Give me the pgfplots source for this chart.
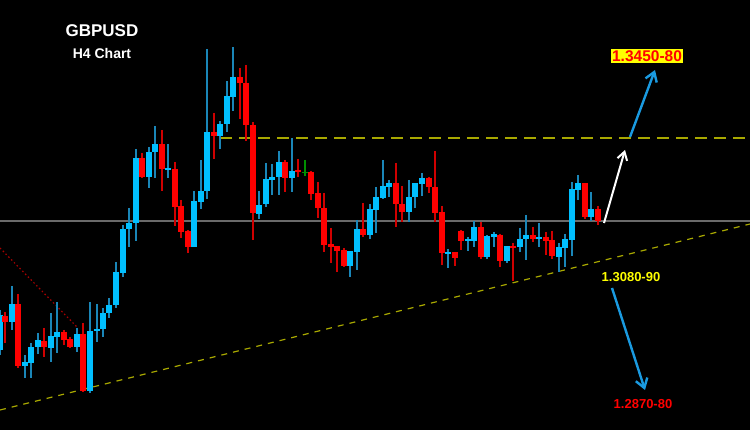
\documentclass[border=0pt]{standalone}
\usepackage{pgfplots}
\usepackage{pgfplotstable}
\usepackage{fontspec}
\setmainfont{Liberation Sans}
\usetikzlibrary{arrows.meta}
\pgfplotsset{compat=1.18}
\definecolor{cbody}{HTML}{00BFFF}
\definecolor{cwick}{HTML}{1A86B8}
\definecolor{rbody}{HTML}{FF0000}
\definecolor{rwick}{HTML}{D00000}
\definecolor{gcol}{HTML}{009000}
\definecolor{olive}{HTML}{A8A800}
\definecolor{arrblue}{HTML}{1A9AE0}
\definecolor{hline}{HTML}{6A6A6A}
\definecolor{lab}{HTML}{FFFF00}
% x, body top, body bottom, wick top, wick bottom (pixel rows)
\pgfplotstableread{
x t b h l
0 315 350 310 355
12 304 322 286 330
25 362 366 355 378
31 347 363 343 378
38 340 347 333 354
51 336 348 313 362
57 332 337 302 353
77 334 347 328 352
90 331 391 302 393
97 329 331 304 342
103 313 329 308 337
109 305 313 298 318
116 272 305 262 308
123 229 273 225 277
129 223 229 208 247
136 158 223 149 241
149 152 177 147 188
155 144 152 126 178
168 168 170 144 178
194 201 247 191 247
201 191 202 160 209
207 132 191 49 199
220 124 136 121 149
227 96 124 81 132
233 77 97 47 111
259 205 214 191 219
266 179 204 163 207
272 177 180 164 195
279 162 177 151 195
292 171 178 138 192
350 251 266 251 277
357 229 252 220 270
370 209 235 204 239
376 197 210 187 233
383 186 198 160 199
389 183 187 180 197
409 197 212 180 222
415 183 197 183 208
422 178 184 173 196
448 252 254 249 268
468 239 241 237 251
474 227 241 221 247
487 236 257 235 259
494 234 237 232 247
507 246 261 246 263
520 239 247 228 252
526 235 239 215 260
539 237 239 223 247
559 247 257 243 272
565 239 248 234 267
572 189 240 182 256
578 183 190 175 200
591 209 217 192 221
}\bluetab
\pgfplotstableread{
x t b h l
5 316 322 312 343
18 304 366 294 368
44 341 347 328 357
64 332 340 330 345
70 339 347 337 348
83 334 391 323 392
142 158 177 153 178
162 144 169 130 191
175 169 207 162 226
181 206 232 200 238
188 231 247 230 253
214 132 136 113 159
240 77 83 68 119
246 83 125 65 141
253 125 213 122 240
285 162 178 160 192
298 170 172 159 177
311 172 194 171 200
318 193 208 182 218
324 208 245 193 252
331 244 247 228 263
337 246 251 246 272
344 250 266 248 267
363 229 235 203 237
396 183 204 163 227
402 204 212 186 222
429 178 187 177 193
435 187 213 151 222
442 212 253 206 265
455 252 258 252 266
461 231 241 230 250
481 227 257 222 259
500 235 261 234 267
513 246 248 243 281
533 235 239 227 242
546 237 241 232 255
552 240 256 231 259
585 183 217 183 219
598 209 221 206 225
}\redtab
\pgfplotstableread{
x t b h l
305 172 173 160 176
}\greentab
\begin{document}
\begin{tikzpicture}
\fill[black] (0,0) rectangle (750pt,430pt);
\begin{axis}[
  at={(0,0)}, anchor=south west,
  scale only axis, width=750pt, height=430pt,
  xmin=0, xmax=750, ymin=0, ymax=430, y dir=reverse,
  hide axis, clip=true,
]
% reference lines
\addplot[hline, line width=1.5pt] coordinates {(0,221) (750,221)};
\addplot[olive, line width=1.6pt, dash pattern=on 12pt off 7pt] coordinates {(220,138) (750,138)};
\addplot[olive, line width=1.2pt, dash pattern=on 6pt off 6pt] coordinates {(0,410) (750,224)};
\addplot[rwick!80!black, line width=1.2pt, dash pattern=on 1.5pt off 2.5pt] coordinates {(0,248) (77,327)};
% candles: wicks
\addplot[draw=none, mark=none, error bars/.cd, y dir=plus, y explicit, error mark=none,
  error bar style={cwick, line width=1.6pt}]
  table[x=x, y=h, y error plus expr=\thisrow{l}-\thisrow{h}] {\bluetab};
\addplot[draw=none, mark=none, error bars/.cd, y dir=plus, y explicit, error mark=none,
  error bar style={rwick, line width=1.6pt}]
  table[x=x, y=h, y error plus expr=\thisrow{l}-\thisrow{h}] {\redtab};
\addplot[draw=none, mark=none, error bars/.cd, y dir=plus, y explicit, error mark=none,
  error bar style={gcol, line width=1.6pt}]
  table[x=x, y=h, y error plus expr=\thisrow{l}-\thisrow{h}] {\greentab};
% candles: bodies
\addplot[draw=none, mark=none, error bars/.cd, y dir=plus, y explicit, error mark=none,
  error bar style={cbody, line width=5.2pt}]
  table[x=x, y=t, y error plus expr=\thisrow{b}-\thisrow{t}] {\bluetab};
\addplot[draw=none, mark=none, error bars/.cd, y dir=plus, y explicit, error mark=none,
  error bar style={rbody, line width=5.2pt}]
  table[x=x, y=t, y error plus expr=\thisrow{b}-\thisrow{t}] {\redtab};
\addplot[draw=none, mark=none, error bars/.cd, y dir=plus, y explicit, error mark=none,
  error bar style={gcol, line width=5.2pt}]
  table[x=x, y=t, y error plus expr=\thisrow{b}-\thisrow{t}] {\greentab};
% arrows
\addplot[white, line width=2pt, -{Straight Barb[length=8pt,width=10pt,line width=2pt]}] coordinates {(604,223) (625,150)};
\addplot[arrblue, line width=2.4pt, -{Straight Barb[length=9pt,width=12pt,line width=2.4pt]}] coordinates {(630,137) (655,70)};
\addplot[arrblue, line width=2.4pt, -{Straight Barb[length=9pt,width=12pt,line width=2.4pt]}] coordinates {(612,288) (645,390)};
% texts
\node[white, font=\bfseries\fontsize{17}{18}\selectfont] at (axis cs:102,31) {GBPUSD};
\node[white, font=\bfseries\fontsize{14}{15}\selectfont] at (axis cs:102,54) {H4 Chart};
\node[fill=lab, text=rbody, inner sep=1.2pt, font=\bfseries\fontsize{15.5}{16}\selectfont] at (axis cs:647,56) {1.3450-80};
\node[text=lab, font=\bfseries\fontsize{13}{14}\selectfont] at (axis cs:631,277) {1.3080-90};
\node[text=rbody, font=\bfseries\fontsize{13}{14}\selectfont] at (axis cs:643,404) {1.2870-80};
\end{axis}
\end{tikzpicture}
\end{document}
